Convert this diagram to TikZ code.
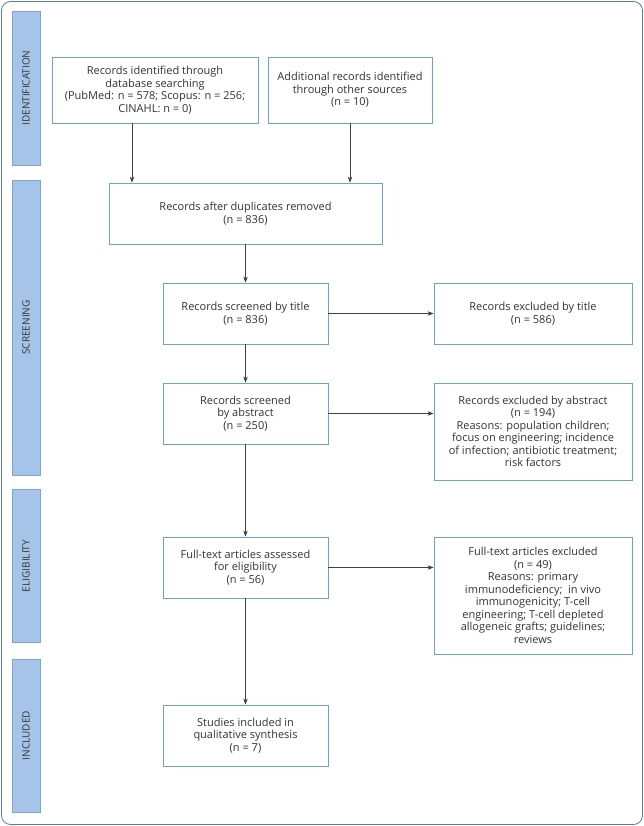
\documentclass[tikz,border=0pt]{standalone}
\usepackage{fontspec}
\setmainfont{Open Sans}
\usepackage{xcolor}
\usepackage{tikz}
\usetikzlibrary{arrows.meta}
\definecolor{framecol}{HTML}{5B7F95}
\definecolor{barfill}{HTML}{A6C3E8}
\definecolor{barline}{HTML}{7FA5D2}
\definecolor{boxline}{HTML}{6FA3D3}
\definecolor{textcol}{HTML}{333333}
\tikzset{
  stage box/.style={
    draw=boxline, fill=white, thick, align=center, text=textcol,
    font=\fontsize{11}{12.5}\selectfont, inner sep=2pt,
    minimum height=#1
  },
  stage box/.default=61pt,
  phase bar/.style={
    draw=barline, fill=barfill, thick, rotate=90, text=textcol,
    font=\fontsize{10}{11}\selectfont, minimum height=28pt,
    minimum width=#1
  },
  flow arrow/.style={draw=black!75, semithick, -{Stealth[length=6pt,width=4.5pt]}}
}

\begin{document}
\begin{tikzpicture}[x=1pt,y=-1pt]
        \useasboundingbox (0,0) rectangle (644,826);
        \draw[framecol, thick, rounded corners=9pt] (1.5,1.5) rectangle (642.5,824.5);

        \begin{scope}
            \node[phase bar=154pt] (Ident) at (26, 88.0)  {IDENTIFICATION};
            \node[phase bar=295pt] (Screen) at (26, 327.5) {SCREENING};
            \node[phase bar=153pt] (Elig) at (26, 566.0)  {ELIGIBILITY};
            \node[phase bar=153pt] (Incl) at (26, 735.5)  {INCLUDED};
        \end{scope}

        \begin{scope}[every node/.append style={stage box}]
            \node[minimum width=206pt, minimum height=66pt] (Search) at (155.0, 90.0) {Records identified through\\database searching\\(PubMed: n = 578; Scopus: n = 256;\\CINAHL: n = 0)};
            \node[minimum width=164pt, minimum height=66pt] (Other) at (350.0, 90.0) {Additional records identified\\through other sources\\(n = 10)};

            \node[minimum width=273pt] (Dedup) at (245.5, 213.5) {Records after duplicates removed\\(n = 836)};

            \node[minimum width=165pt] (Title) at (245.5, 313.5) {Records screened by title\\(n = 836)};
            \node[minimum width=198pt] (ExTitle) at (533.0, 313.5) {Records excluded by title\\(n = 586)};

            \node[minimum width=165pt] (Abstr) at (245.5, 413.5) {Records screened\\by abstract\\(n = 250)};
            \node[minimum width=198pt, minimum height=97pt] (ExAbstr) at (533.0, 431.5) {Records excluded by abstract\\(n = 194)\\Reasons: population children;\\focus on engineering; incidence\\of infection; antibiotic treatment;\\risk factors};

            \node[minimum width=165pt] (Full) at (245.5, 567.5) {Full-text articles assessed\\for eligibility\\(n = 56)};
            \node[minimum width=198pt, minimum height=117pt] (ExFull) at (533.0, 595.5) {Full-text articles excluded\\(n = 49)\\Reasons: primary\\immunodeficiency;\ \ in vivo\\immunogenicity; T-cell\\engineering; T-cell depleted\\allogeneic grafts; guidelines;\\reviews};

            \node[minimum width=165pt] (Studies) at (245.5, 735.5) {Studies included in\\qualitative synthesis\\(n = 7)};
        \end{scope}

        \begin{scope}
            \draw[flow arrow] ([xshift=-23pt]Search.south) -- ([xshift=-23pt]Search.south |- Dedup.north);
            \draw[flow arrow] (Other.south) -- (Other.south |- Dedup.north);

            \draw[flow arrow] (Dedup.south) -- (Title.north);
            \draw[flow arrow] (Title.south) -- (Abstr.north);
            \draw[flow arrow] (Abstr.south) -- (Full.north);
            \draw[flow arrow] (Full.south) -- (Studies.north);

            \draw[flow arrow] (Title.east) -- (ExTitle.west);
            \draw[flow arrow] (Abstr.east) -- (ExAbstr.west |- Abstr.east);
            \draw[flow arrow] (Full.east) -- (ExFull.west |- Full.east);
        \end{scope}
    \end{tikzpicture}
\end{document}
